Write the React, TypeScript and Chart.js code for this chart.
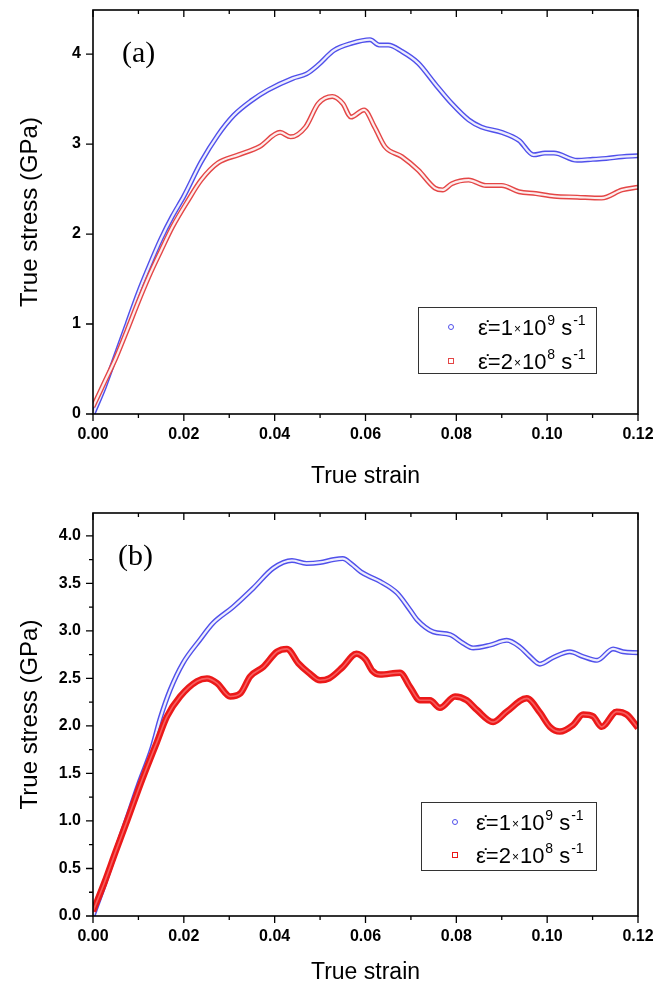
import React, { useEffect, useRef } from 'react';
import { Chart, registerables } from 'chart.js';

Chart.register(...registerables);

const FONT = '"Liberation Sans", Arial, sans-serif';
const SERIF = '"Liberation Serif", "Times New Roman", serif';

// ---------- Panel (a) ----------
const strainA1 = [0, 0.0025, 0.005, 0.0075, 0.01, 0.0125, 0.015, 0.0175, 0.02, 0.0238, 0.0275, 0.031, 0.0348, 0.0385, 0.044, 0.047, 0.0496, 0.053, 0.0569, 0.061, 0.063, 0.065, 0.068, 0.0716, 0.0753, 0.079, 0.0827, 0.0855, 0.09, 0.0938, 0.097, 0.0995, 0.1015, 0.1066, 0.11, 0.113, 0.1165, 0.12];
const stressA1 = [0, 0.3, 0.65, 1.0, 1.35, 1.66, 1.95, 2.2, 2.42, 2.8, 3.1, 3.32, 3.48, 3.6, 3.73, 3.78, 3.88, 4.04, 4.12, 4.16, 4.1, 4.1, 4.03, 3.9, 3.67, 3.45, 3.27, 3.19, 3.13, 3.04, 2.88, 2.9, 2.9, 2.82, 2.83, 2.84, 2.86, 2.87];

const strainA2 = [0, 0.0025, 0.005, 0.0075, 0.01, 0.0125, 0.015, 0.0175, 0.021, 0.0238, 0.0275, 0.032, 0.0366, 0.0412, 0.0435, 0.0468, 0.0496, 0.0527, 0.055, 0.0568, 0.0597, 0.062, 0.0643, 0.068, 0.0716, 0.0753, 0.077, 0.079, 0.0827, 0.0865, 0.09, 0.0938, 0.0975, 0.1015, 0.1066, 0.112, 0.1165, 0.12];
const stressA2 = [0.08, 0.35, 0.62, 0.93, 1.25, 1.55, 1.82, 2.08, 2.38, 2.6, 2.79, 2.88, 2.97, 3.13, 3.08, 3.19, 3.45, 3.53, 3.45, 3.3, 3.38, 3.19, 2.97, 2.86, 2.71, 2.51, 2.49, 2.56, 2.6, 2.54, 2.54, 2.47, 2.45, 2.42, 2.41, 2.4, 2.49, 2.52];

// ---------- Panel (b) ----------
const strainB1 = [0, 0.0025, 0.005, 0.0075, 0.01, 0.013, 0.0148, 0.017, 0.0198, 0.0236, 0.0264, 0.0308, 0.0353, 0.0397, 0.0438, 0.047, 0.05, 0.053, 0.055, 0.057, 0.059, 0.061, 0.0632, 0.0669, 0.0698, 0.0713, 0.0749, 0.0786, 0.0815, 0.0837, 0.0874, 0.0911, 0.094, 0.0962, 0.0984, 0.1013, 0.105, 0.1079, 0.111, 0.1145, 0.1167, 0.12];
const stressB1 = [0, 0.33, 0.68, 1.03, 1.38, 1.77, 2.08, 2.38, 2.66, 2.91, 3.08, 3.25, 3.45, 3.66, 3.74, 3.71, 3.72, 3.75, 3.76, 3.7, 3.62, 3.57, 3.52, 3.4, 3.22, 3.12, 2.99, 2.96, 2.87, 2.82, 2.85, 2.9, 2.83, 2.73, 2.65, 2.72, 2.78, 2.73, 2.69, 2.81, 2.78, 2.77];

const strainB2 = [0, 0.0025, 0.005, 0.0075, 0.01, 0.012, 0.014, 0.0163, 0.0192, 0.0229, 0.0251, 0.0273, 0.0302, 0.0324, 0.0346, 0.0375, 0.0405, 0.0427, 0.0452, 0.0475, 0.05, 0.052, 0.055, 0.058, 0.06, 0.0615, 0.0632, 0.0676, 0.0698, 0.072, 0.0742, 0.0764, 0.0797, 0.0823, 0.0845, 0.0881, 0.0911, 0.0955, 0.0984, 0.1006, 0.1028, 0.1057, 0.1079, 0.1101, 0.112, 0.1153, 0.1175, 0.12];
const stressB2 = [0.05, 0.35, 0.68, 1.0, 1.33, 1.58, 1.82, 2.1, 2.31, 2.47, 2.5, 2.45, 2.31, 2.34, 2.52, 2.62, 2.78, 2.81, 2.66, 2.56, 2.48, 2.5, 2.62, 2.76, 2.7, 2.58, 2.54, 2.56, 2.41, 2.27, 2.27, 2.19, 2.31, 2.27, 2.17, 2.04, 2.15, 2.29, 2.14, 1.99, 1.94, 2.01, 2.12, 2.1, 1.99, 2.15, 2.12, 1.98];

// ---------- Text ----------
const xTitle = 'True strain';
const yTitle = 'True stress (GPa)';
const panelLabels = ['(a)', '(b)'];
const rateMantissas = ['1', '2'];
const rateExponents = ['9', '8'];

const BLUE = 'rgb(80,80,235)';
const RED_A = 'rgb(228,70,70)';
const RED_B = 'rgb(235,25,25)';

function pts(xs: number[], ys: number[]) {
  return xs.map((x, i) => ({ x, y: ys[i] }));
}

function drawRate(ctx: CanvasRenderingContext2D, x0: number, yMid: number, mant: string, exp: string) {
  const base = yMid + 8;
  let x = x0;
  ctx.fillStyle = '#000';
  ctx.textAlign = 'left';
  ctx.textBaseline = 'alphabetic';
  const big = `22px ${FONT}`;
  const small = `14px ${FONT}`;
  ctx.font = big;
  let t = 'ε\u0307=' + mant;
  ctx.fillText(t, x, base);
  x += ctx.measureText(t).width + 1;
  ctx.font = `12px ${FONT}`;
  ctx.fillText('×', x, base - 2);
  x += ctx.measureText('×').width + 1;
  ctx.font = big;
  ctx.fillText('10', x, base);
  x += ctx.measureText('10').width + 1;
  ctx.font = small;
  ctx.fillText(exp, x, base - 10);
  x += ctx.measureText(exp).width + 6;
  ctx.font = big;
  ctx.fillText('s', x, base);
  x += ctx.measureText('s').width + 1;
  ctx.font = small;
  ctx.fillText('-1', x, base - 10);
}

const decorPlugin = {
  id: 'decor',
  afterDatasetsDraw(chart: any, _args: any, opts: any) {
    const { ctx, chartArea: a } = chart;
    const xs = chart.scales.x;
    const ys = chart.scales.y;
    ctx.save();
    ctx.strokeStyle = '#000';
    ctx.lineWidth = 1.6;
    ctx.strokeRect(a.left, a.top, a.right - a.left, a.bottom - a.top);
    ctx.lineWidth = 1.3;
    ctx.beginPath();
    const xt: number[] = xs.ticks.map((t: any) => t.value);
    const xMinor = xt.slice(1).map((v, i) => (v + xt[i]) / 2);
    xt.forEach((v) => {
      const p = xs.getPixelForValue(v);
      ctx.moveTo(p, a.bottom); ctx.lineTo(p, a.bottom + 7);
      ctx.moveTo(p, a.top); ctx.lineTo(p, a.top + 7);
    });
    xMinor.forEach((v) => {
      const p = xs.getPixelForValue(v);
      ctx.moveTo(p, a.bottom); ctx.lineTo(p, a.bottom + 4);
      ctx.moveTo(p, a.top); ctx.lineTo(p, a.top + 4);
    });
    const yt: number[] = ys.ticks.map((t: any) => t.value);
    yt.forEach((v) => {
      const p = ys.getPixelForValue(v);
      ctx.moveTo(a.left - 7, p); ctx.lineTo(a.left, p);
    });
    if (opts.yMinor) {
      yt.slice(1).forEach((v, i) => {
        const p = ys.getPixelForValue((v + yt[i]) / 2);
        ctx.moveTo(a.left - 4, p); ctx.lineTo(a.left, p);
      });
    }
    ctx.stroke();

    // panel label
    ctx.fillStyle = '#000';
    ctx.font = `30px ${SERIF}`;
    ctx.textAlign = 'left';
    ctx.textBaseline = 'middle';
    ctx.fillText(opts.label, xs.getPixelForValue(opts.labelAt[0]), ys.getPixelForValue(opts.labelAt[1]));

    // legend
    const L = opts.legend;
    ctx.fillStyle = '#fff';
    ctx.fillRect(L.left, L.top, L.width, L.height);
    ctx.strokeStyle = '#333';
    ctx.lineWidth = 1;
    ctx.strokeRect(L.left + 0.5, L.top + 0.5, L.width, L.height);
    ctx.lineWidth = 1;
    ctx.strokeStyle = BLUE;
    ctx.beginPath();
    ctx.arc(L.markerX, L.rows[0], 2.5, 0, Math.PI * 2);
    ctx.stroke();
    ctx.strokeStyle = L.redColor;
    ctx.strokeRect(L.markerX - 2.5, L.rows[1] - 2.5, 5, 5);
    drawRate(ctx, L.textX, L.rows[0], rateMantissas[0], rateExponents[0]);
    drawRate(ctx, L.textX, L.rows[1], rateMantissas[1], rateExponents[1]);
    ctx.restore();
  },
};

function makeConfig(p: any): any {
  const blueData = pts(p.xs1, p.ys1);
  const redData = pts(p.xs2, p.ys2);
  return {
    type: 'line',
    data: {
      datasets: [
        { data: blueData, borderColor: BLUE, borderWidth: 5, order: 4 },
        { data: blueData, borderColor: 'rgba(255,255,255,0.9)', borderWidth: 2.2, order: 3 },
        { data: redData, borderColor: p.redColor, borderWidth: p.redWidth, order: 2 },
        { data: redData, borderColor: p.redInner, borderWidth: p.redInnerWidth, order: 1 },
      ],
    },
    options: {
      responsive: false,
      animation: false,
      events: [],
      layout: { padding: { top: p.padTop, right: 17, bottom: 0, left: 0 } },
      elements: {
        point: { radius: 0 },
        line: { cubicInterpolationMode: 'monotone', fill: false },
      },
      plugins: {
        legend: { display: false },
        tooltip: { enabled: false },
        decor: {
          yMinor: p.yMinor,
          label: p.label,
          labelAt: p.labelAt,
          legend: { ...p.legend, redColor: p.redColor },
        },
      },
      scales: {
        x: {
          type: 'linear',
          min: 0,
          max: 0.12,
          afterFit: (s: any) => { s.height = p.xAxisHeight; s.paddingLeft = 0; s.paddingRight = 0; },
          grid: { display: false, drawTicks: false },
          border: { display: false },
          ticks: {
            stepSize: 0.02,
            includeBounds: false,
            autoSkip: false,
            maxRotation: 0,
            padding: 11,
            color: '#000',
            font: { family: FONT, size: 16, weight: 'bold' },
            callback: (v: any) => Number(v).toFixed(2),
          },
          title: {
            display: true,
            text: xTitle,
            color: '#000',
            font: { family: FONT, size: 23, lineHeight: 1 },
            padding: { top: 0, bottom: p.xTitlePad },
          },
        },
        y: {
          type: 'linear',
          min: 0,
          max: p.yMax,
          afterFit: (s: any) => { s.width = 93; s.paddingTop = 0; s.paddingBottom = 0; },
          grid: { display: false, drawTicks: false },
          border: { display: false },
          ticks: {
            stepSize: p.yStep,
            includeBounds: false,
            autoSkip: false,
            padding: 12,
            color: '#000',
            font: { family: FONT, size: 16, weight: 'bold' },
            callback: (v: any) => Number(v).toFixed(p.yDec),
          },
          title: {
            display: true,
            text: yTitle,
            color: '#000',
            font: { family: FONT, size: 24, lineHeight: 1 },
            padding: { top: 18, bottom: 0 },
          },
        },
      },
    },
    plugins: [decorPlugin],
  };
}

const panelA = {
  xs1: strainA1, ys1: stressA1, xs2: strainA2, ys2: stressA2,
  redColor: RED_A, redWidth: 5, redInner: 'rgba(255,255,255,0.9)', redInnerWidth: 2.2,
  yMax: 4.49, yStep: 1, yDec: 0, yMinor: false,
  padTop: 10, xAxisHeight: 78, xTitlePad: 4,
  label: panelLabels[0], labelAt: [0.0064, 4.0],
  legend: { left: 418, top: 307, width: 178, height: 66, markerX: 451, rows: [327, 361], textX: 478 },
};

const panelB = {
  xs1: strainB1, ys1: stressB1, xs2: strainB2, ys2: stressB2,
  redColor: RED_B, redWidth: 6.5, redInner: 'rgba(255,140,140,0.6)', redInnerWidth: 1.6,
  yMax: 4.24, yStep: 0.5, yDec: 1, yMinor: true,
  padTop: 21, xAxisHeight: 68, xTitlePad: 0,
  label: panelLabels[1], labelAt: [0.0055, 3.78],
  legend: { left: 421, top: 310, width: 175, height: 68, markerX: 455, rows: [330, 363], textX: 476 },
};

function Panel({ cfg }: { cfg: any }) {
  const ref = useRef<HTMLCanvasElement | null>(null);
  useEffect(() => {
    if (!ref.current) return;
    const chart = new Chart(ref.current, makeConfig(cfg));
    return () => chart.destroy();
  }, [cfg]);
  return <canvas ref={ref} width={655} height={492} style={{ display: 'block', width: 655, height: 492 }} />;
}

export default function App() {
  return (
    <div style={{ position: 'absolute', left: 0, top: 0, width: 655, height: 984, background: '#fff' }}>
      <Panel cfg={panelA} />
      <Panel cfg={panelB} />
    </div>
  );
}
